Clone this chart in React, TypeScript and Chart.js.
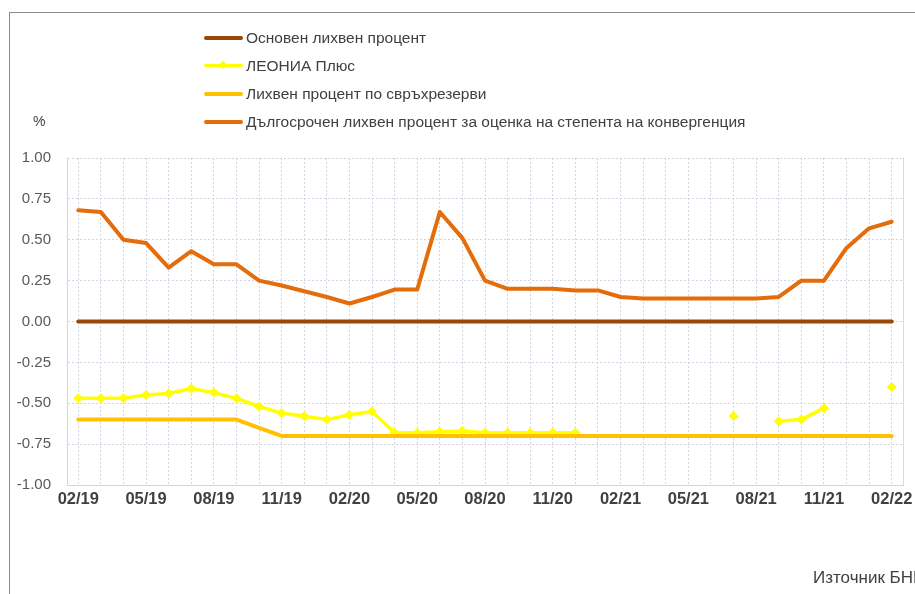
import React, { useEffect, useRef } from "react";
import { Chart, registerables } from "chart.js";

Chart.register(...registerables);

const months: string[] = [
  "02/19", "03/19", "04/19", "05/19", "06/19", "07/19", "08/19", "09/19", "10/19", "11/19", "12/19", "01/20",
  "02/20", "03/20", "04/20", "05/20", "06/20", "07/20", "08/20", "09/20", "10/20", "11/20", "12/20", "01/21",
  "02/21", "03/21", "04/21", "05/21", "06/21", "07/21", "08/21", "09/21", "10/21", "11/21", "12/21", "01/22",
  "02/22",
];

const baseRate: number[] = months.map(() => 0);

const leoniaPlus: (number | null)[] = [
  -0.47, -0.47, -0.47, -0.45, -0.44, -0.41, -0.435, -0.47, -0.52, -0.56, -0.58, -0.60,
  -0.57, -0.55, -0.68, -0.68, -0.675, -0.67, -0.68, -0.68, -0.68, -0.68, -0.68, null,
  null, null, null, null, null, -0.58, null, -0.61, -0.60, -0.53, null, null,
  -0.40,
];

const excessReserves: number[] = [
  -0.6, -0.6, -0.6, -0.6, -0.6, -0.6, -0.6, -0.6, -0.65, -0.7, -0.7, -0.7,
  -0.7, -0.7, -0.7, -0.7, -0.7, -0.7, -0.7, -0.7, -0.7, -0.7, -0.7, -0.7,
  -0.7, -0.7, -0.7, -0.7, -0.7, -0.7, -0.7, -0.7, -0.7, -0.7, -0.7, -0.7,
  -0.7,
];

const longTermRate: number[] = [
  0.68, 0.67, 0.50, 0.48, 0.33, 0.43, 0.35, 0.35, 0.25, 0.22, 0.185, 0.15,
  0.11, 0.15, 0.195, 0.195, 0.67, 0.51, 0.25, 0.20, 0.20, 0.20, 0.19, 0.19,
  0.15, 0.14, 0.14, 0.14, 0.14, 0.14, 0.14, 0.15, 0.25, 0.25, 0.45, 0.57,
  0.61,
];

const seriesNames: string[] = [
  "Основен лихвен процент",
  "ЛЕОНИА Плюс",
  "Лихвен процент по свръхрезерви",
  "Дългосрочен лихвен процент за оценка на степента на конвергенция",
];

const seriesColors: string[] = ["#984807", "#FFFF00", "#FFC000", "#E46C0A"];

const yTicks: number[] = [-1, -0.75, -0.5, -0.25, 0, 0.25, 0.5, 0.75, 1];

const FONT = "'Liberation Sans', Arial, sans-serif";

const frameBorder = {
  id: "frameBorder",
  afterDraw(chart: any) {
    const { ctx, chartArea } = chart;
    ctx.save();
    ctx.strokeStyle = "#d6d9e6";
    ctx.lineWidth = 1;
    ctx.beginPath();
    ctx.moveTo(Math.round(chartArea.right) + 0.5, chartArea.top);
    ctx.lineTo(Math.round(chartArea.right) + 0.5, chartArea.bottom);
    ctx.stroke();
    ctx.restore();
  },
};

export default function App() {
  const canvasRef = useRef<HTMLCanvasElement | null>(null);

  useEffect(() => {
    const canvas = canvasRef.current;
    if (!canvas) return;
    const chart = new Chart(canvas, {
      type: "line",
      data: {
        labels: months,
        datasets: [
          {
            label: seriesNames[0],
            data: baseRate,
            borderColor: seriesColors[0],
            backgroundColor: seriesColors[0],
            borderWidth: 4,
            pointRadius: 0,
            order: 4,
          },
          {
            label: seriesNames[1],
            data: leoniaPlus,
            borderColor: seriesColors[1],
            backgroundColor: seriesColors[1],
            borderWidth: 3.5,
            pointStyle: "rectRot",
            pointRadius: 5,
            pointBorderWidth: 0,
            spanGaps: false,
            order: 3,
          },
          {
            label: seriesNames[2],
            data: excessReserves,
            borderColor: seriesColors[2],
            backgroundColor: seriesColors[2],
            borderWidth: 4,
            pointRadius: 0,
            order: 2,
          },
          {
            label: seriesNames[3],
            data: longTermRate,
            borderColor: seriesColors[3],
            backgroundColor: seriesColors[3],
            borderWidth: 4,
            pointRadius: 0,
            order: 1,
          },
        ],
      },
      options: {
        animation: false,
        responsive: false,
        maintainAspectRatio: false,
        layout: { padding: { top: 158, right: 57, left: 0, bottom: 0 } },
        plugins: {
          legend: { display: false },
          tooltip: { enabled: false },
        },
        elements: { line: { tension: 0, borderCapStyle: "round", borderJoinStyle: "round" } },
        scales: {
          x: {
            type: "category",
            offset: true,
            grid: {
              offset: false,
              color: "#d3d6e4",
              lineWidth: 1,
              drawTicks: false,
            },
            border: { display: true, color: "#d0d6e8", width: 1, dash: [2, 2] },
            ticks: {
              autoSkip: false,
              maxRotation: 0,
              minRotation: 0,
              padding: 5,
              color: "#404040",
              font: { family: FONT, size: 16.5, weight: "bold" },
              callback: (_v: any, i: number) => (i % 3 === 0 ? months[i] : ""),
            },
            afterFit: (s: any) => {
              s.height = 109;
            },
          },
          y: {
            min: -1,
            max: 1,
            afterBuildTicks: (s: any) => {
              s.ticks = yTicks.map((v) => ({ value: v }));
            },
            grid: {
              color: "#d3d3e2",
              lineWidth: 1,
              drawTicks: false,
            },
            border: { display: true, color: "#d0d6e8", width: 1, dash: [2, 2] },
            ticks: {
              padding: 16,
              color: "#595959",
              font: { family: FONT, size: 15 },
              callback: (v: any) => Number(v).toFixed(2),
            },
            afterFit: (s: any) => {
              s.width = 67;
            },
          },
        },
      },
      plugins: [frameBorder],
    });
    return () => chart.destroy();
  }, []);

  const legendTop = [38, 65.5, 94, 122];

  return (
    <div
      style={{
        position: "fixed",
        left: 0,
        top: 0,
        width: 915,
        height: 594,
        overflow: "hidden",
        fontFamily: FONT,
        background: "#ffffff",
      }}
    >
      <div
        style={{
          position: "absolute",
          left: 9,
          top: 12,
          width: 2000,
          height: 2000,
          borderLeft: "1px solid #8a8a8a",
          borderTop: "1px solid #8a8a8a",
        }}
      />
      <canvas ref={canvasRef} width={960} height={594} style={{ position: "absolute", left: 0, top: 0 }} />
      {seriesNames.map((name, i) => (
        <div
          key={name}
          style={{
            position: "absolute",
            left: 204,
            top: legendTop[i] - 9,
            height: 18,
            display: "flex",
            alignItems: "center",
            whiteSpace: "nowrap",
          }}
        >
          <div style={{ position: "relative", width: 39, height: 18, marginRight: 3 }}>
            <div
              style={{
                position: "absolute",
                left: 0,
                right: 0,
                top: i === 1 ? 7.5 : 7,
                height: i === 1 ? 3 : 4,
                background: seriesColors[i],
                borderRadius: 2,
              }}
            />
            {i === 1 && (
              <div
                style={{
                  position: "absolute",
                  left: 16,
                  top: 5.5,
                  width: 6,
                  height: 6,
                  background: seriesColors[i],
                  transform: "rotate(45deg)",
                }}
              />
            )}
          </div>
          <span style={{ fontSize: 15.5, color: "#404040" }}>{name}</span>
        </div>
      ))}
      <div style={{ position: "absolute", left: 33, top: 113, fontSize: 14, color: "#404040" }}>%</div>
      <div style={{ position: "absolute", left: 813, top: 568, fontSize: 17, color: "#404040", whiteSpace: "nowrap" }}>
        Източник БНБ
      </div>
    </div>
  );
}
